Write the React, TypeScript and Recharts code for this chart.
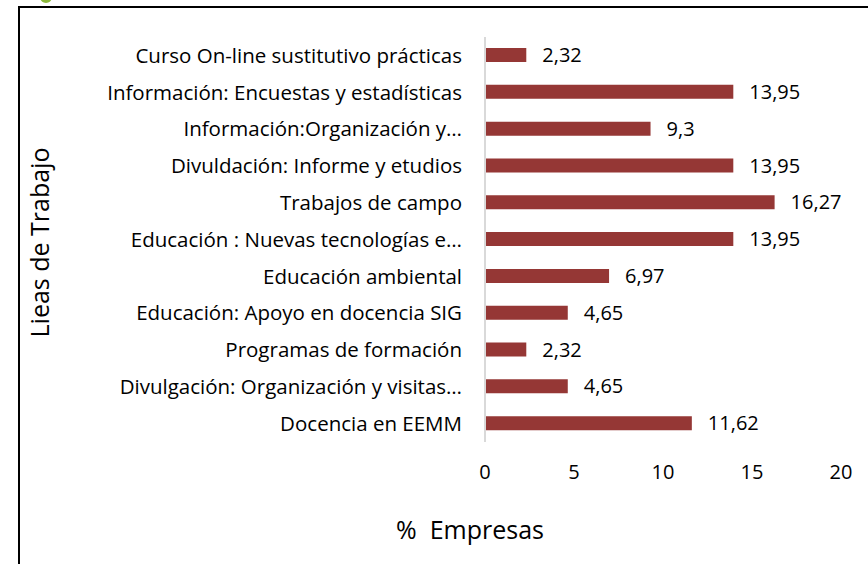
import React from 'react';
import { BarChart, Bar, XAxis, YAxis, LabelList } from 'recharts';

const lineas = [
  'Curso On-line sustitutivo prácticas',
  'Información: Encuestas y estadísticas',
  'Información:Organización y…',
  'Divuldación: Informe y etudios',
  'Trabajos de campo',
  'Educación : Nuevas tecnologías e…',
  'Educación ambiental',
  'Educación: Apoyo en docencia SIG',
  'Programas de formación',
  'Divulgación: Organización y visitas…',
  'Docencia en EEMM',
];
const empresas = [2.32, 13.95, 9.3, 13.95, 16.27, 13.95, 6.97, 4.65, 2.32, 4.65, 11.62];
const xTicks = [0, 5, 10, 15, 20];

const data = lineas.map((name, i) => ({ name, value: empresas[i] }));
const font = '"Open Sans", "Noto Sans", sans-serif';

const fmt = (v: any) => String(v).replace('.', ',');

const YTitle = (props: any) => {
  const vb = props.viewBox;
  const x = vb.x + 39;
  const y = vb.y + vb.height / 2 + 3;
  return (
    <text x={x} y={y} transform={`rotate(-90 ${x} ${y})`} textAnchor="middle" dominantBaseline="central"
      fontSize={25} fill="#000" fontFamily={font}>Lieas de Trabajo</text>
  );
};

const XTitle = (props: any) => {
  const vb = props.viewBox;
  return (
    <text x={vb.x + vb.width / 2 - 193} y={vb.y + 87} textAnchor="middle" dominantBaseline="central"
      fontSize={25} fill="#000" fontFamily={font} style={{ whiteSpace: 'pre' }}>{'%  Empresas'}</text>
  );
};

export default function App() {
  return (
    <div style={{ position: 'absolute', left: 0, top: 0, width: 868, height: 564, overflow: 'hidden', background: '#fff' }}>
      <div style={{ position: 'absolute', left: 40, top: -10, width: 12, height: 13, borderRadius: 6, background: '#8cb83c' }} />
      <div style={{ position: 'absolute', left: 18, top: 6, width: 880, height: 600, border: '2px solid #000', boxSizing: 'border-box' }} />
      <div style={{ position: 'absolute', left: 0, top: 0 }}>
        <BarChart width={868} height={564} data={data} layout="vertical"
          margin={{ top: 37, right: 27, bottom: 0, left: 0 }} barCategoryGap={0}>
          <XAxis type="number" domain={[0, 20]} ticks={xTicks} height={122} axisLine={false} tickLine={false}
            tickMargin={17} tick={{ fontSize: 20, fill: '#000', fontFamily: font }}
            label={<XTitle />} />
          <YAxis type="category" dataKey="name" width={485} axisLine={{ stroke: '#d9d9d9', strokeWidth: 2 }}
            tickLine={false} tickMargin={17} interval={0}
            tick={{ fontSize: 20.5, fill: '#000', fontFamily: font }} label={<YTitle />} />
          <Bar dataKey="value" fill="#953735" barSize={14} isAnimationActive={false}>
            <LabelList dataKey="value" position="right" offset={16} formatter={fmt}
              style={{ fontSize: 20, fill: '#000', fontFamily: font }} />
          </Bar>
        </BarChart>
      </div>
    </div>
  );
}
